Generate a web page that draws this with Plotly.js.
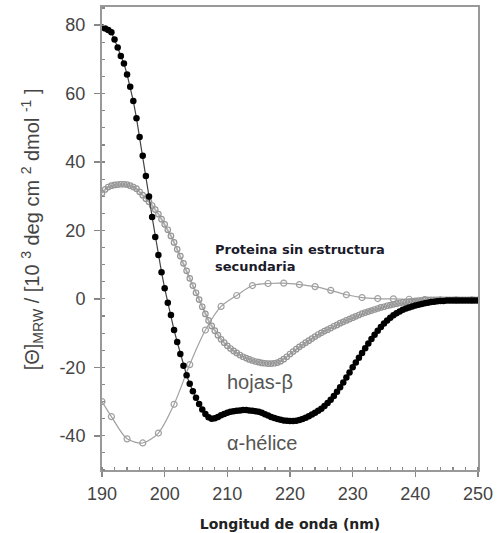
<!DOCTYPE html>
<html>
<head>
<meta charset="utf-8">
<script src="https://cdn.plot.ly/plotly-3.0.1.min.js"></script>
<style>html,body{margin:0;padding:0;background:#fff;}#chart{width:498px;height:533px;}</style>
</head>
<body>
<div id="chart"></div>
<script>
// Wavelength grid (nm) for the alpha-helix and beta-sheet spectra
const wavelength = [
190.0,190.5,191.0,191.5,192.0,192.5,193.0,193.5,194.0,194.5,
195.0,195.5,196.0,196.5,197.0,197.5,198.0,198.5,199.0,199.5,
200.0,200.5,201.0,201.5,202.0,202.5,203.0,203.5,204.0,204.5,
205.0,205.5,206.0,206.5,207.0,207.5,208.0,208.5,209.0,209.5,
210.0,210.5,211.0,211.5,212.0,212.5,213.0,213.5,214.0,214.5,
215.0,215.5,216.0,216.5,217.0,217.5,218.0,218.5,219.0,219.5,
220.0,220.5,221.0,221.5,222.0,222.5,223.0,223.5,224.0,224.5,
225.0,225.5,226.0,226.5,227.0,227.5,228.0,228.5,229.0,229.5,
230.0,230.5,231.0,231.5,232.0,232.5,233.0,233.5,234.0,234.5,
235.0,235.5,236.0,236.5,237.0,237.5,238.0,238.5,239.0,239.5,
240.0,240.5,241.0,241.5,242.0,242.5,243.0,243.5,244.0,244.5,
245.0,245.5,246.0,246.5,247.0,247.5,248.0,248.5,249.0,249.5,
250.0
];

// alpha-helix
const alphaHelix = [
79.3,79.0,78.6,77.9,75.8,73.5,71.0,68.8,65.6,62.0,
57.8,52.8,47.3,41.8,35.9,29.9,23.9,18.1,12.8,7.8,
3.1,-1.1,-4.7,-9.1,-12.6,-16.1,-19.5,-22.3,-24.8,-27.0,
-28.9,-30.7,-32.3,-33.6,-34.6,-35.0,-34.9,-34.5,-34.0,-33.6,
-33.3,-33.0,-32.8,-32.7,-32.6,-32.5,-32.5,-32.6,-32.7,-32.8,
-33.0,-33.3,-33.7,-34.1,-34.5,-34.8,-35.1,-35.3,-35.5,-35.6,
-35.7,-35.7,-35.6,-35.4,-35.1,-34.7,-34.3,-33.8,-33.3,-32.7,
-32.1,-31.3,-30.4,-29.5,-28.4,-27.1,-25.8,-24.4,-23.0,-21.5,
-20.0,-18.6,-17.2,-15.8,-14.4,-13.0,-11.7,-10.5,-9.3,-8.2,
-7.2,-6.3,-5.5,-4.8,-4.2,-3.7,-3.2,-2.8,-2.5,-2.2,
-1.9,-1.7,-1.5,-1.3,-1.1,-0.9,-0.8,-0.7,-0.6,-0.6,
-0.5,-0.5,-0.5,-0.5,-0.5,-0.5,-0.5,-0.5,-0.5,-0.5,
-0.5
];

// beta-sheet
const betaSheet = [
30.9,32.0,32.7,33.1,33.3,33.4,33.5,33.5,33.4,33.1,
32.7,32.2,31.3,30.3,29.3,28.4,27.3,26.1,24.8,23.3,
21.8,20.2,18.4,16.5,14.5,12.5,10.4,8.2,6.0,3.9,
1.8,-0.2,-2.3,-4.4,-6.3,-7.9,-9.3,-10.6,-11.8,-12.8,
-13.7,-14.5,-15.2,-15.8,-16.4,-16.9,-17.3,-17.7,-18.0,-18.3,
-18.5,-18.7,-18.8,-18.9,-18.9,-18.8,-18.6,-18.2,-17.6,-16.9,
-16.1,-15.4,-14.7,-14.0,-13.4,-12.8,-12.2,-11.6,-11.0,-10.4,
-9.9,-9.4,-9.0,-8.5,-8.0,-7.6,-7.1,-6.7,-6.3,-5.9,
-5.5,-5.1,-4.7,-4.3,-4.0,-3.7,-3.4,-3.1,-2.8,-2.5,
-2.3,-2.0,-1.8,-1.6,-1.4,-1.2,-1.0,-0.9,-0.8,-0.7,
-0.6,-0.5,-0.4,-0.3,-0.3,-0.3,-0.3,-0.3,-0.3,-0.3,
-0.3,-0.3,-0.3,-0.3,-0.3,-0.3,-0.3,-0.3,-0.3,-0.3,
-0.3
];

// unstructured protein (sparser sampling)
const unstructWavelength = [190,191.5,194,196.5,199,201.5,204,206.5,209,211.5,214,216.5,219,221.5,224,226.5,229,231.5,234,236.5,239,241.5,244,246.5,249];
const unstructured = [-30,-34.4,-40.9,-42.1,-39.2,-30.8,-19.2,-9.1,-2.2,1.0,3.9,4.5,4.6,4.2,3.6,2.5,1.2,0.4,0.1,0.0,-0.1,-0.2,-0.3,-0.3,-0.3];

// labels
const labelUnstructured = 'Proteina sin estructura<br>secundaria';
const labelBeta = 'hojas-β';
const labelAlpha = 'α-hélice';
const xTitle = 'Longitud de onda (nm)';
const yTitle = '[Θ]<sub>MRW</sub> / [10 <sup>3</sup> deg cm <sup>2</sup> dmol <sup>-1</sup> ]';
const xTickVals = [190,200,210,220,230,240,250];
const yTickVals = [-40,-20,0,20,40,60,80];

const traces = [
  {
    x: unstructWavelength, y: unstructured, type: 'scatter', mode: 'lines+markers',
    line: {color: '#a0a0a0', width: 1.2, shape: 'spline', smoothing: 0.8},
    marker: {symbol: 'circle-open', size: 6, color: '#a0a0a0', line: {width: 1.2}},
    showlegend: false
  },
  {
    x: wavelength, y: betaSheet, type: 'scatter', mode: 'lines+markers',
    line: {color: '#b0b0b0', width: 2},
    marker: {symbol: 'circle-open', size: 5.5, color: '#969696', line: {width: 1.2}},
    showlegend: false
  },
  {
    x: wavelength, y: alphaHelix, type: 'scatter', mode: 'lines+markers',
    line: {color: '#444', width: 1.2},
    marker: {symbol: 'circle', size: 6.5, color: '#000'},
    showlegend: false
  }
];

const tickFont = {family: 'Arial, Liberation Sans, sans-serif', size: 18, color: '#444'};

const layout = {
  width: 498, height: 533,
  margin: {l: 102, r: 20, t: 7, b: 63, pad: 0},
  paper_bgcolor: '#fff', plot_bgcolor: '#fff',
  showlegend: false,
  xaxis: {
    range: [190, 250], tickvals: xTickVals, ticktext: xTickVals.map(String),
    ticks: 'outside', ticklen: 5, tickwidth: 1.5, tickcolor: '#888',
    minor: {dtick: 2, ticks: 'inside', ticklen: 3, tickwidth: 1.2, tickcolor: '#888'},
    showline: true, linecolor: '#999', linewidth: 2, mirror: true,
    showgrid: false, zeroline: false,
    tickfont: tickFont, ticklabelstandoff: 1,
    title: {text: xTitle, font: {family: 'DejaVu Sans, sans-serif', size: 14, color: '#222', weight: 'bold'}, standoff: 17}
  },
  yaxis: {
    range: [-50, 85.3], tickvals: yTickVals, ticktext: yTickVals.map(String),
    ticks: 'outside', ticklen: 6, tickwidth: 1.5, tickcolor: '#888',
    minor: {dtick: 5, ticks: 'inside', ticklen: 3, tickwidth: 1.2, tickcolor: '#888'},
    showline: true, linecolor: '#999', linewidth: 2, mirror: true,
    showgrid: false, zeroline: false,
    tickfont: tickFont, ticklabelstandoff: 5
  },
  annotations: [
    {x: -0.186, y: 0.52, xref: 'paper', yref: 'paper', xanchor: 'center', yanchor: 'middle',
     textangle: -90, text: yTitle, showarrow: false,
     font: {family: 'Arial, Liberation Sans, sans-serif', size: 20, color: '#444'}},
    {x: 207.7, y: 12.0, xref: 'x', yref: 'y', xanchor: 'left', yanchor: 'middle', align: 'left',
     text: labelUnstructured, showarrow: false,
     font: {family: 'DejaVu Sans, sans-serif', size: 13, color: '#1a1a2a', weight: 'bold'}},
    {x: 209.6, y: -24.2, xref: 'x', yref: 'y', xanchor: 'left', yanchor: 'middle',
     text: labelBeta, showarrow: false,
     font: {family: 'Arial, Liberation Sans, sans-serif', size: 20, color: '#555'}},
    {x: 209.6, y: -42.0, xref: 'x', yref: 'y', xanchor: 'left', yanchor: 'middle',
     text: labelAlpha, showarrow: false,
     font: {family: 'Arial, Liberation Sans, sans-serif', size: 20, color: '#555'}}
  ]
};

Plotly.newPlot('chart', traces, layout, {displayModeBar: false, staticPlot: true});
</script>
</body>
</html>
